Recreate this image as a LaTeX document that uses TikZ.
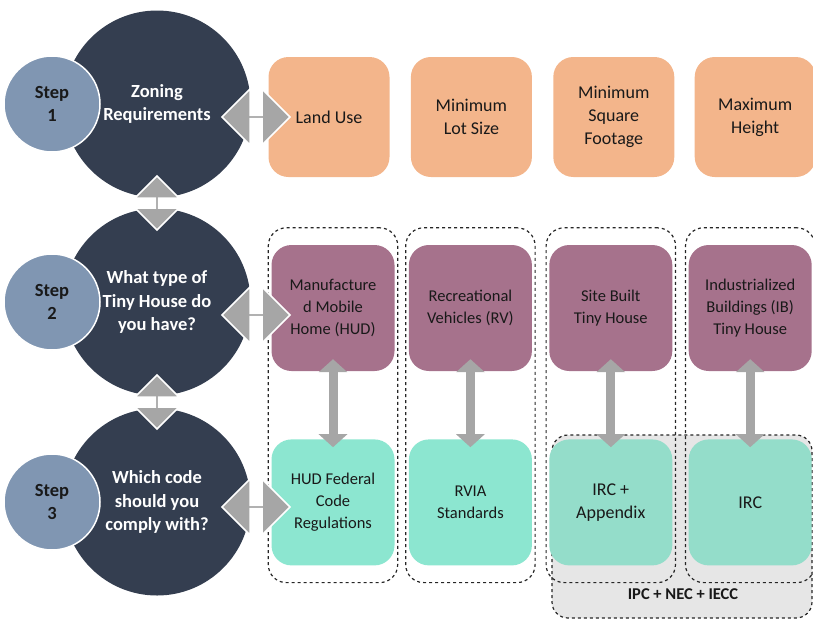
\documentclass[tikz,border=0pt]{standalone}
\usepackage{fontspec}
\setmainfont{Carlito}
\usetikzlibrary{positioning,fit,calc,shapes.arrows,arrows.meta}

\definecolor{navy}{HTML}{343E50}
\definecolor{stepblue}{HTML}{8096B2}
\definecolor{sand}{HTML}{F3B58B}
\definecolor{plum}{HTML}{A6728C}
\definecolor{mint}{HTML}{8CE6D0}
\definecolor{mintgray}{HTML}{94DDCA}
\definecolor{arrowgray}{HTML}{A6A6A6}
\definecolor{zonegray}{HTML}{E6E6E6}

\tikzset{
  bigdisc/.style={circle, fill=navy, minimum size=187pt, inner sep=0pt, text=white, align=center,
    font=\bfseries\fontsize{18.5}{23.5}\selectfont},
  stepdisc/.style={circle, fill=stepblue, draw=white, line width=1.5pt, minimum size=96pt, inner sep=0pt,
    align=center, text=black!90, font=\bfseries\fontsize{18.5}{23}\selectfont},
  box/.style={rounded corners=20pt, minimum width=121pt, minimum height=120pt, inner sep=0pt,
    align=center, text=black!90},
  zonebox/.style={box, fill=sand, font=\fontsize{18}{23}\selectfont},
  typebox/.style={box, fill=plum, minimum width=123pt, minimum height=126pt, font=\fontsize{16.5}{22}\selectfont},
  codebox/.style={typebox, fill=mint},
  ircbox/.style={codebox, fill=mintgray, font=\fontsize{18}{23}\selectfont},
  group/.style={draw=black!85, dashed, line width=1.2pt, rounded corners=18pt, inner xsep=3pt, inner ysep=17pt},
  hconn/.style={double arrow, fill=arrowgray, draw=white, line width=1.5pt, inner sep=0pt,
    minimum height=68pt, minimum width=56pt, double arrow head extend=13pt},
  vconn/.style={hconn, rotate=90, minimum height=54pt, minimum width=44pt, double arrow head extend=10pt},
  link/.style={draw=arrowgray, line width=9pt, {Triangle[width=28pt,length=13pt]}-{Triangle[width=28pt,length=13pt]},
    shorten <=-12pt, shorten >=-8pt}
}

\begin{document}
\begin{tikzpicture}[x=1pt, y=-1pt]
  \clip (0,0) rectangle (813,619);

  % shared codes behind the last two columns
  \draw[fill=zonegray, draw=black!85, dashed, line width=1.2pt, rounded corners=16pt] (552,435) rectangle (812,618);
  \node[font=\bfseries\fontsize{16.5}{20}\selectfont, text=black!90] (zonelabel) at (683,594) {IPC + NEC + IECC};

  % steps
  \node[bigdisc] (q1) at (157,104) {Zoning\\Requirements};
  \node[bigdisc] (q2) at (157,302) {What type of\\Tiny House do\\you have?};
  \node[bigdisc] (q3) at (157,502) {Which code\\should you\\comply with?};
  \node[stepdisc] (s1) at (52,104) {Step\\1};
  \node[stepdisc] (s2) at (52,302) {Step\\2};
  \node[stepdisc] (s3) at (52,502) {Step\\3};

  % zoning
  \node[zonebox] (o1) at (329,117) {Land Use};
  \node[zonebox, right=21pt of o1] (o2) {Minimum\\Lot Size};
  \node[zonebox, right=21pt of o2] (o3) {Minimum\\Square\\Footage};
  \node[zonebox, right=20pt of o3] (o4) {Maximum\\Height};

  % house types
  \node[typebox] (m1) at (333,308) {Manufacture\\d Mobile\\Home (HUD)};
  \node[typebox, right=14pt of m1] (m2) {Recreational\\Vehicles (RV)};
  \node[typebox, right=17pt of m2] (m3) {Site Built\\Tiny House};
  \node[typebox, right=16pt of m3] (m4) {Industrialized\\Buildings (IB)\\Tiny House};

  % codes
  \node[codebox, below=68pt of m1] (c1) {HUD Federal\\Code\\Regulations};
  \node[codebox, below=68pt of m2] (c2) {RVIA\\Standards};
  \node[ircbox, below=68pt of m3] (c3) {IRC +\\Appendix};
  \node[ircbox, below=68pt of m4] (c4) {IRC};

  \foreach \i in {1,...,4} {
    \node[group, fit=(m\i)(c\i)] (g\i) {};
    \draw[link] (m\i) -- (c\i);
  }

  % block arrows
  \node[hconn] (a1) at (256,117) {};
  \node[hconn] (a2) at (256,315) {};
  \node[hconn] (a3) at (256,507) {};
  \node[vconn] (v1) at ($(q1)!0.5!(q2)$) {};
  \node[vconn] (v2) at ($(q2)!0.5!(q3)$) {};
\end{tikzpicture}
\end{document}
